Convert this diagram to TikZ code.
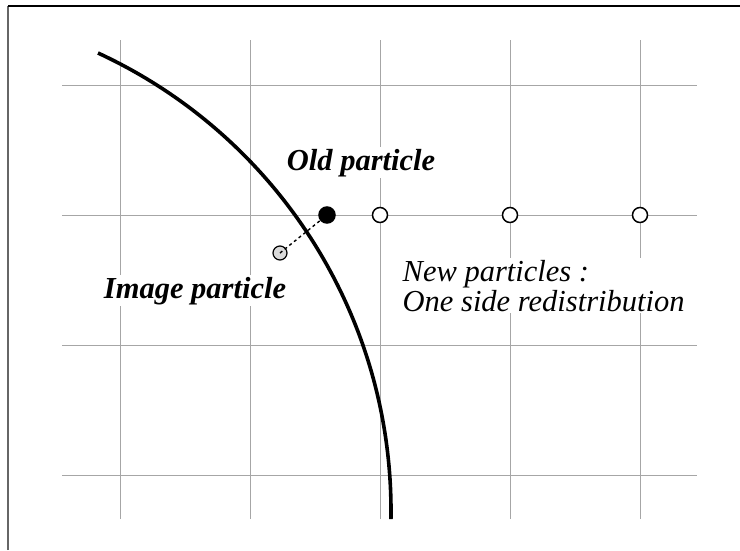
\documentclass[tikz,border=0pt]{standalone}
\usepackage{fontspec}
\setmainfont{Liberation Serif}
\begin{document}
\begin{tikzpicture}[x=1pt, y=-1pt,
    grid/.style={black!35, line width=1pt},
    label/.style={fill=white, inner sep=1.5pt, font=\fontsize{30.5}{30}\selectfont},
    newpart/.style={circle, draw, fill=white, line width=1.5pt, minimum size=15pt, inner sep=0pt},
    oldpart/.style={circle, draw, fill=black, line width=1.5pt, minimum size=16pt, inner sep=0pt},
    imgpart/.style={circle, draw, fill=black!15, line width=1.2pt, minimum size=14pt, inner sep=0pt}]
                \useasboundingbox (0,0) rectangle (740,550);
                \draw[black!60, line width=1.5pt] (8,550) -- (8,6);
                \draw[line width=1.5pt] (8,6) -- (740,6);
                \foreach \x in {120,250,380,510,640}
                    \draw[grid] (\x,40) -- (\x,519);
                \foreach \y in {85,215,345,475}
                    \draw[grid] (62,\y) -- (697,\y);
                \draw[line width=3.6pt] (98,53) arc[start angle=65.2, end angle=-0.9, radius=504.7pt];
                \node[label, anchor=base, font=\fontsize{30.5}{30}\selectfont\bfseries\itshape] (oldlabel) at (361,170) {Old particle};
                \node[label, anchor=base, font=\fontsize{30.5}{30}\selectfont\bfseries\itshape] (imglabel) at (195,298) {Image particle};
                \node[label, anchor=base west, align=left, font=\fontsize{30.5}{30}\selectfont\itshape] (newlabel) at (401,311) {New particles :\\One side redistribution};
                \node[imgpart] (img) at (280,253) {};
                \node[oldpart] (old) at (327,215) {};
                \node[newpart] (new1) at (380,215) {};
                \node[newpart] (new2) at (510,215) {};
                \node[newpart] (new3) at (640,215) {};
                \draw[dashed, line width=1.4pt, dash pattern=on 3pt off 3pt] (img.center) -- (old);
            \end{tikzpicture}
\end{document}
